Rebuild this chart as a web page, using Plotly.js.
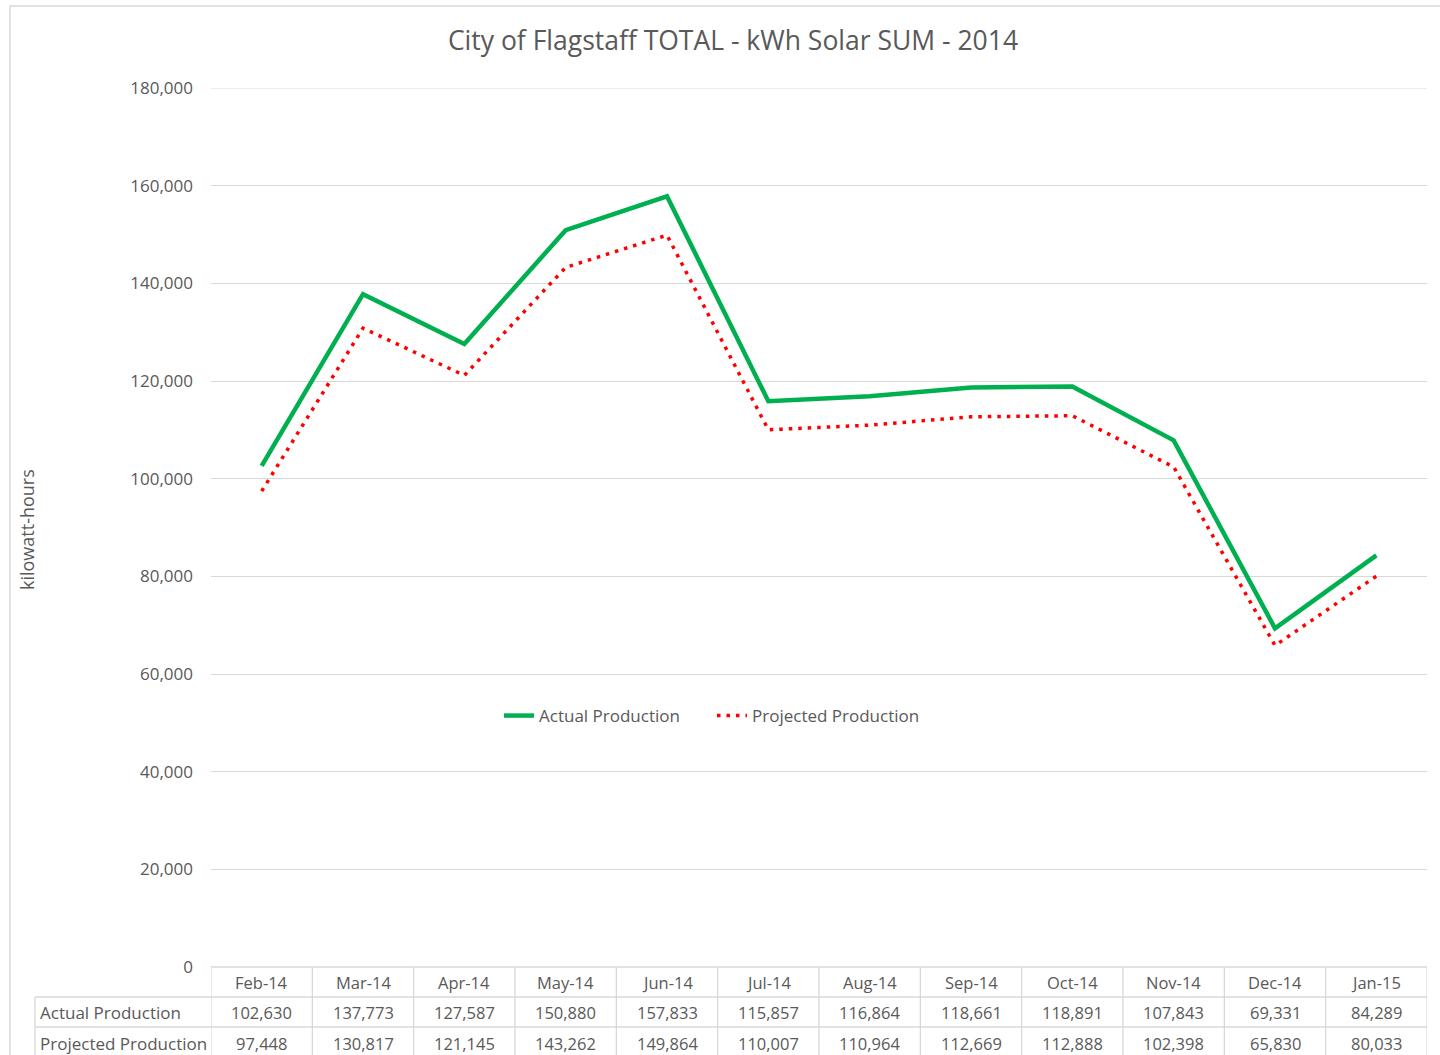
<!DOCTYPE html>
<html>
<head>
<meta charset="utf-8">
<script src="https://cdn.plot.ly/plotly-3.0.1.min.js"></script>
<style>
html,body{margin:0;padding:0;background:#fff;}
#chart{width:1440px;height:1055px;}
</style>
</head>
<body>
<div id="chart"></div>
<script>
// ---- data ----
const months = ["Feb-14","Mar-14","Apr-14","May-14","Jun-14","Jul-14","Aug-14","Sep-14","Oct-14","Nov-14","Dec-14","Jan-15"];
const actualProduction = [102630,137773,127587,150880,157833,115857,116864,118661,118891,107843,69331,84289];
const projectedProduction = [97448,130817,121145,143262,149864,110007,110964,112669,112888,102398,65830,80033];
const seriesNames = ["Actual Production","Projected Production"];
const chartTitle = "City of Flagstaff TOTAL - kWh Solar SUM - 2014";
const yTitle = "kilowatt-hours";
const yMax = 180000;

// ---- layout helpers (pixel geometry) ----
const W = 1440, H = 1055;
const L = 211, R = 1427, T = 88, B = 967;
const pw = R - L, ph = B - T;
const px = x => (x - L) / pw;          // pixel x -> paper x
const py = y => (B - y) / ph;          // pixel y -> paper y
const FONT = "Open Sans, sans-serif";
const TXT = "#595959";
const GRID = "#d9d9d9";
const FS = 16.5;

const traces = [
  {x: months, y: actualProduction, name: seriesNames[0], type: "scatter", mode: "lines",
   line: {color: "#00b050", width: 4.5}, hoverinfo: "x+y"},
  {x: months, y: projectedProduction, name: seriesNames[1], type: "scatter", mode: "lines",
   line: {color: "#ff0000", width: 3.5, dash: "3.5px,6px"}, hoverinfo: "x+y"}
];

const fmt = v => v.toLocaleString("en-US");
const annotations = [];
const shapes = [];

// y-axis title
annotations.push({xref: "paper", yref: "paper", x: px(27), y: py(530), text: yTitle, showarrow: false,
  textangle: -90, font: {family: FONT, size: 18, color: TXT}, xanchor: "center", yanchor: "middle"});

// data table
const rowY = [py(982), py(1012), py(1043)];
months.forEach((m, i) => {
  annotations.push({xref: "x", yref: "paper", x: i, y: rowY[0], text: m, showarrow: false,
    font: {family: FONT, size: FS, color: TXT}, xanchor: "center", yanchor: "middle"});
  annotations.push({xref: "x", yref: "paper", x: i, y: rowY[1], text: fmt(actualProduction[i]), showarrow: false,
    font: {family: FONT, size: FS, color: TXT}, xanchor: "center", yanchor: "middle"});
  annotations.push({xref: "x", yref: "paper", x: i, y: rowY[2], text: fmt(projectedProduction[i]), showarrow: false,
    font: {family: FONT, size: FS, color: TXT}, xanchor: "center", yanchor: "middle"});
});
seriesNames.forEach((n, k) => {
  annotations.push({xref: "paper", yref: "paper", x: px(38), y: rowY[k + 1], text: n, showarrow: false,
    font: {family: FONT, size: 17, color: TXT}, xanchor: "left", yanchor: "middle"});
});

const lineStyle = {color: GRID, width: 1.3};
// top gridline (at the axis maximum)
shapes.push({type: "line", xref: "paper", yref: "y", x0: 0, x1: 1, y0: yMax, y1: yMax, line: {color: GRID, width: 1}, layer: "below"});
// vertical table lines at category boundaries
for (let i = 0; i <= months.length; i++) {
  shapes.push({type: "line", xref: "x", yref: "paper", x0: i - 0.5, x1: i - 0.5, y0: 0, y1: py(1060), line: lineStyle, layer: "below"});
}
// row label column left border
shapes.push({type: "line", xref: "paper", yref: "paper", x0: px(35), x1: px(35), y0: py(997), y1: py(1060), line: lineStyle});
// horizontal table lines
[997, 1027].forEach(yy => {
  shapes.push({type: "line", xref: "paper", yref: "paper", x0: px(35), x1: 1, y0: py(yy), y1: py(yy), line: lineStyle});
});
shapes.push({type: "line", xref: "paper", yref: "paper", x0: 0, x1: 1, y0: 0, y1: 0, line: lineStyle});
// chart border
shapes.push({type: "rect", xref: "paper", yref: "paper", x0: px(10), x1: px(1460), y0: py(1080), y1: py(6),
  line: {color: GRID, width: 1.5}, layer: "below"});

const layout = {
  width: W, height: H,
  margin: {l: L, r: W - R, t: T, b: H - B, pad: 0},
  paper_bgcolor: "#fff", plot_bgcolor: "#fff",
  title: {text: chartTitle, x: 733 / W, xanchor: "center", xref: "container",
    y: 1 - 41 / H, yanchor: "middle", yref: "container",
    font: {family: FONT, size: 26.5, color: TXT}},
  xaxis: {type: "category", range: [-0.5, months.length - 0.5], showticklabels: false, showgrid: false,
    zeroline: false, showline: false, ticks: "", fixedrange: true},
  yaxis: {range: [0, yMax], dtick: 20000, tick0: 0, tickformat: ",", showgrid: true, gridcolor: GRID, gridwidth: 1,
    zeroline: false, showline: false, ticks: "", ticklabelstandoff: 17,
    tickfont: {family: FONT, size: 17, color: TXT}, fixedrange: true},
  showlegend: true,
  legend: {orientation: "h", x: px(499), xanchor: "left", y: py(716), yanchor: "middle",
    font: {family: FONT, size: 17, color: TXT}, bgcolor: "rgba(0,0,0,0)",
    entrywidth: 168, entrywidthmode: "pixels", itemwidth: 30},
  annotations: annotations,
  shapes: shapes
};

Plotly.newPlot("chart", traces, layout, {displayModeBar: false, staticPlot: true});
</script>
</body>
</html>
